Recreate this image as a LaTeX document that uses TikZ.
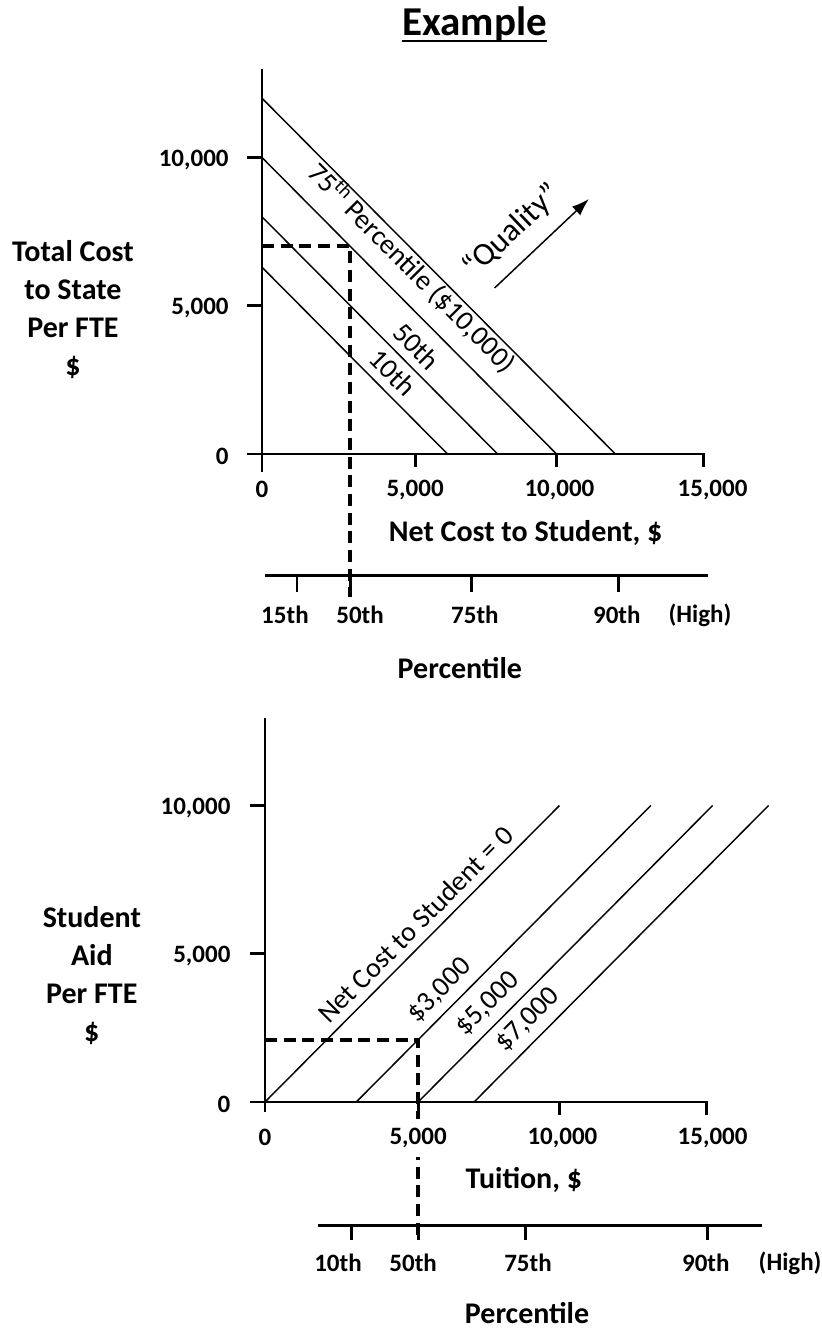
\documentclass[tikz,border=0pt]{standalone}
\usepackage{fontspec}
\setmainfont{Carlito}
\usetikzlibrary{arrows.meta}

\begin{document}
\begin{tikzpicture}[x=22.09pt,y=22.24pt,
    axis/.style={line width=2.2pt},
    level/.style={line width=1.1pt},
    guide/.style={line width=3pt,dash pattern=on 9pt off 5pt},
    ticklab/.style={font=\fontsize{18.75}{22}\selectfont\bfseries,inner sep=1pt},
    xlab/.style={ticklab,fill=white,inner ysep=7pt},
    axlab/.style={font=\fontsize{22.5}{28.5}\selectfont\bfseries,align=center},
    linelab/.style={font=\fontsize{21}{25}\selectfont,sloped,above=4pt,inner sep=2pt}]

  \useasboundingbox (-8.896,-29.545) rectangle (19.015,15.312);

  \node[font=\fontsize{30.75}{36}\selectfont\bfseries,inner sep=0pt,anchor=base] (title) at (7.22,14.10) {Example};
  \draw[line width=1.5pt] ([yshift=-3.75pt]title.base west) -- ([yshift=-3.75pt]title.base east);

  % upper chart
  \begin{scope}
    \draw[axis] (0,-0.6) -- (0,13);
    \draw[axis] (-0.5,0) -- (15,0) -- (15,-0.45);
    \foreach \y in {5,10} \draw[axis] (-0.5,\y) -- (0,\y);
    \foreach \x in {5.2,10} \draw[axis] (\x,0) -- (\x,-0.45);

    \draw[level] (0,12) -- (12,0);
    \draw[level] (0,10) -- node[linelab,above=5pt,pos=0.44] (lab75) {75\textsuperscript{th} Percentile (\$10,000)} (10,0);
    \draw[level] (0,8) -- node[linelab,pos=0.6] (lab50) {50th} (8,0);
    \draw[level] (0,6.3) -- node[linelab,pos=0.635] (lab10) {10th} (6.3,0);

    \coordinate (qs) at (7.9,5.6);
    \coordinate (qe) at (11.1,8.6);
    \draw[line width=1.1pt,-{Latex[length=13pt,width=9pt]}] (qs) -- node[sloped,above=9pt,pos=0.4,inner sep=2pt,font=\fontsize{24}{28}\selectfont] (quality) {“Quality”} (qe);

    % percentile scale
    \draw[axis] (0.1,-4.11) -- (15.14,-4.11);
    \foreach \x in {1.19,3,7.13,12.12} \draw[axis] (\x,-4.11) -- (\x,-4.65);

    \coordinate (c1) at (3,7);
    \draw[guide] (0,7) -- (c1) -- (3,-4.82);

    \foreach \y/\l in {0/0,5/{5,000},10/{10,000}}
      \node[ticklab,anchor=east] (ty\y) at (-1.08,\y-0.08) {\l};
    \foreach \x/\l [count=\i] in {0/0,5.2/{5,000},10.1/{10,000},15.3/{15,000}}
      \node[xlab] (tx\i) at (\x,-1.21) {\l};
    \foreach \x/\l [count=\i] in {0.78/15th,3.33/50th,7.23/75th,12.05/90th,14.87/(High)}
      \node[ticklab] (pt\i) at (\x,-5.43) {\l};

    \node[axlab] (ylab1) at (-6.42,4.86) {Total Cost\\to State\\Per FTE\\\$};
    \node[axlab] (xlab1) at (8.95,-2.66) {Net Cost to Student, \$};
    \node[axlab] (plab1) at (6.72,-7.22) {Percentile};
  \end{scope}

  % lower chart
  \begin{scope}[shift={(0.102,-21.855)}]
    \draw[axis] (0,-0.34) -- (0,12.95);
    \draw[axis] (-0.5,0) -- (15,0) -- (15,-0.45);
    \foreach \y in {5,10} \draw[axis] (-0.5,\y) -- (0,\y);
    \foreach \x in {5.2,10} \draw[axis] (\x,0) -- (\x,-0.45);

    \draw[level] (0,0) -- node[linelab,pos=0.555] (net0) {Net Cost to Student = 0} (10,10);
    \draw[level] (3.1,0) -- node[linelab,pos=0.33] (net3) {\$3,000} (13.1,10);
    \draw[level] (5.2,0) -- node[linelab,pos=0.285] (net5) {\$5,000} (15.2,10);
    \draw[level] (7.1,0) -- node[linelab,pos=0.23] (net7) {\$7,000} (17.1,10);

    % percentile scale
    \draw[axis] (1.8,-4.15) -- (16.88,-4.15);
    \foreach \x in {2.95,5.2,8.86,15.04} \draw[axis] (\x,-4.15) -- (\x,-4.65);

    \coordinate (c2) at (5.2,2.1);
    \draw[guide] (0,2.1) -- (c2) -- (5.2,-4.55);

    \foreach \y/\l in {0/0,5/{5,000},10/{10,000}}
      \node[ticklab,anchor=east] (uy\y) at (-1.12,\y-0.08) {\l};
    \foreach \x/\l [count=\i] in {0/0,5.2/{5,000},10.1/{10,000},15.2/{15,000}}
      \node[xlab] (ux\i) at (\x,-1.21) {\l};
    \foreach \x/\l [count=\i] in {2.48/10th,5.03/50th,8.93/75th,14.97/90th,17.83/(High)}
      \node[ticklab] (pu\i) at (\x,-5.43) {\l};

    \node[axlab] (ylab2) at (-5.88,4.25) {Student\\Aid\\Per FTE\\\$};
    \node[axlab] (xlab2) at (8.79,-2.63) {Tuition, \$};
    \node[axlab] (plab2) at (8.9,-7.12) {Percentile};
  \end{scope}
\end{tikzpicture}
\end{document}
